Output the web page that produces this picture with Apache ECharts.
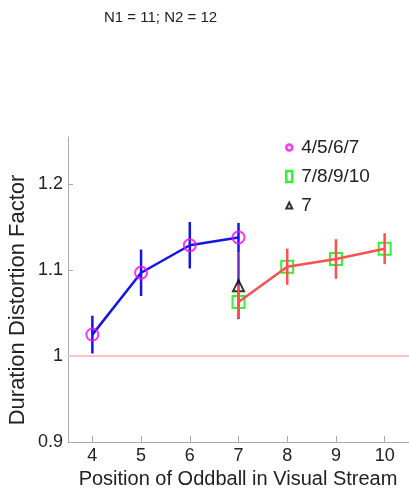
<!DOCTYPE html>
<html><head><meta charset="utf-8">
<script src="https://cdn.jsdelivr.net/npm/echarts@6/dist/echarts.min.js"></script>
<style>html,body{margin:0;padding:0;background:#fff}#c{width:409px;height:490px}</style>
</head><body><div id="c"></div>
<script>
const titleText = 'N1 = 11; N2 = 12';
const xTicks = [4, 5, 6, 7, 8, 9, 10];
const yTicks = [0.9, 1, 1.1, 1.2];
const posA = [4, 5, 6, 7];
const meanA = [1.025, 1.097, 1.129, 1.138];
const errA = [0.022, 0.027, 0.027, 0.017];
const posB = [7, 8, 9, 10];
const meanB = [1.063, 1.104, 1.113, 1.125];
const errB = [0.019, 0.021, 0.023, 0.018];
const posC = [7];
const meanC = [1.082];
const errC = [0.039];
const refValue = 1;
const names = ['4/5/6/7', '7/8/9/10', '7'];

const FONT = 'Liberation Sans';
const pts = (p, m) => p.map((x, i) => [x, m[i]]);
const errData = (p, m, e) => p.map((x, i) => [x, m[i] - e[i], m[i] + e[i]]);
function errSeries(data, color, z) {
  return {
    type: 'custom', z: z, silent: true,
    data: data,
    encode: { x: 0, y: [1, 2] },
    renderItem: function (params, api) {
      const a = api.coord([api.value(0), api.value(1)]);
      const b = api.coord([api.value(0), api.value(2)]);
      return { type: 'line', shape: { x1: a[0], y1: a[1], x2: b[0], y2: b[1] },
        style: { stroke: color, lineWidth: 2.5 } };
    }
  };
}
const ellipse = 'path://M0,-1C0.55,-1 1,-0.55 1,0C1,0.55 0.55,1 0,1C-0.55,1 -1,0.55 -1,0C-1,-0.55 -0.55,-1 0,-1Z';
const triPath = 'path://M0,-1L1,1L-1,1Z';

const chart = echarts.init(document.getElementById('c'), null, { renderer: 'canvas' });
chart.setOption({
  animation: false,
  backgroundColor: '#fff',
  title: { text: titleText, left: 104, top: 10, padding: 0,
    textStyle: { fontFamily: FONT, fontSize: 15, fontWeight: 'normal', color: '#222' } },
  legend: {
    orient: 'vertical', left: 280, top: 133, itemGap: 10, itemWidth: 6, itemHeight: 11,
    textStyle: { fontFamily: FONT, fontSize: 19, color: '#222', padding: [0, 0, 0, 4] },
    data: [
      { name: names[0], icon: ellipse, itemStyle: { color: '#fff', borderColor: '#ff00ff', borderWidth: 2.5 } },
      { name: names[1], icon: 'rect', itemStyle: { color: '#fff', borderColor: '#00ee00', borderWidth: 2.5 } },
      { name: names[2], icon: triPath, itemStyle: { color: '#fff', borderColor: '#000', borderWidth: 2 } }
    ]
  },
  grid: { left: 68, right: -3, top: 137, bottom: 48, containLabel: false },
  xAxis: {
    type: 'value', min: 3.5, max: 10.5,
    axisLine: { show: true, lineStyle: { color: '#aaa', width: 1 } },
    axisTick: { show: true, inside: true, length: 6, customValues: xTicks, lineStyle: { color: '#aaa' } },
    axisLabel: { customValues: xTicks, margin: 5, fontFamily: FONT, fontSize: 18, color: '#222' },
    splitLine: { show: false }
  },
  yAxis: {
    type: 'value', min: 0.9, max: 1.255,
    axisLine: { show: true, lineStyle: { color: '#aaa', width: 1 } },
    axisTick: { show: true, inside: true, length: 5, customValues: yTicks, lineStyle: { color: '#aaa' } },
    axisLabel: { customValues: yTicks, margin: 5, fontFamily: FONT, fontSize: 18, color: '#222' },
    splitLine: { show: false }
  },
  graphic: [
    { type: 'text', rotation: Math.PI / 2, x: 18, y: 300, silent: true,
      style: { text: 'Duration Distortion Factor', fontFamily: FONT, fontSize: 22, fill: '#222',
        textAlign: 'center', textVerticalAlign: 'middle' } },
    { type: 'text', x: 238, y: 479, silent: true,
      style: { text: 'Position of Oddball in Visual Stream', fontFamily: FONT, fontSize: 20, fill: '#222',
        textAlign: 'center', textVerticalAlign: 'middle' } }
  ],
  series: [
    { type: 'line', data: [[3.5, refValue]], symbol: 'none', silent: true, z: 1, lineStyle: { width: 0 },
      markLine: { silent: true, symbol: 'none', label: { show: false },
        lineStyle: { color: '#f9c4c4', width: 2, type: 'solid' }, data: [{ yAxis: refValue }] } },
    errSeries(errData(posA, meanA, errA), '#1414e6', 2),
    { type: 'line', data: pts(posA, meanA), symbol: 'none', z: 3, silent: true,
      lineStyle: { color: '#1414e6', width: 2.5 } },
    { name: names[0], type: 'scatter', data: pts(posA, meanA), symbol: 'circle', symbolSize: 12, z: 4,
      itemStyle: { color: 'rgba(0,0,0,0)', borderColor: '#ff00ff', borderWidth: 2 } },
    errSeries(errData(posC, meanC, errC), '#6a2cc8', 5),
    { name: names[2], type: 'scatter', data: pts(posC, meanC), symbol: triPath, symbolSize: [11, 11], z: 6,
      itemStyle: { color: 'rgba(0,0,0,0)', borderColor: '#000', borderWidth: 2 } },
    { name: names[1], type: 'scatter', data: pts(posB, meanB), symbol: 'rect', symbolSize: 12, z: 7,
      itemStyle: { color: 'rgba(0,0,0,0)', borderColor: '#00ee00', borderWidth: 2 } },
    { type: 'line', data: pts(posB, meanB), symbol: 'none', z: 8, silent: true,
      lineStyle: { color: '#ff4f4f', width: 2.5 } },
    errSeries(errData(posB, meanB, errB), '#ff4f4f', 9)
  ]
});
</script></body></html>
